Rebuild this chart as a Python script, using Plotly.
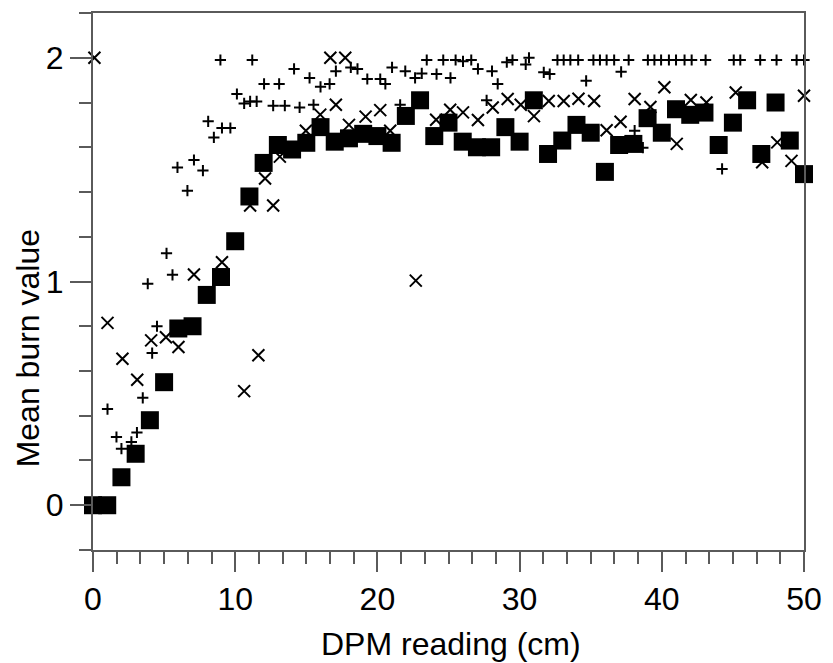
import plotly.graph_objects as go

# Squares: mean burn value, one per integer DPM reading
sq_x = list(range(0, 51))
sq_y = [0, 0, 0.125, 0.23, 0.38, 0.55, 0.79, 0.80, 0.94, 1.02,
        1.18, 1.38, 1.53, 1.61, 1.59, 1.62, 1.69, 1.625, 1.64, 1.66,
        1.65, 1.62, 1.74, 1.81, 1.65, 1.71, 1.625, 1.60, 1.60, 1.69,
        1.625, 1.81, 1.57, 1.63, 1.70, 1.665, 1.49, 1.61, 1.615, 1.73,
        1.665, 1.77, 1.745, 1.755, 1.61, 1.71, 1.81, 1.57, 1.80, 1.63,
        1.48]

# "+" series
plus_x = [1.02, 1.65, 2.0, 2.7, 3.09, 3.5, 4.16, 4.5, 3.85, 5.59,
          5.17, 6.64, 5.94, 7.1, 7.73, 8.1, 8.5, 9.07, 9.66, 8.96,
          10.12, 10.63, 11.05, 11.51, 11.2, 12.03, 13.09, 12.67, 13.49, 14.53,
          15.51, 14.14, 15.23, 16.0, 16.64, 17.08, 18.13, 18.6, 19.29, 20.2,
          20.56, 21.03, 21.6, 21.96, 22.65, 23.12, 24.16, 25.14, 23.47, 24.63,
          25.5, 26.02, 26.6, 27.07, 27.68, 28.06, 28.46, 29.1, 29.5, 30.43,
          30.66, 31.7, 32.12, 32.66, 33.1, 33.57, 34.12, 34.68, 35.19, 35.65,
          36.12, 36.65, 37.14, 37.67, 38.09, 38.67, 39.02, 39.48, 39.95, 40.5,
          41.0, 41.6, 42.1, 43.08, 44.24, 45.06, 45.52, 46.92, 48.07, 49.48,
          50.0]
plus_y = [0.43, 0.305, 0.253, 0.283, 0.325, 0.48, 0.68, 0.80, 0.99, 1.03,
          1.126, 1.406, 1.51, 1.543, 1.496, 1.716, 1.644, 1.686, 1.686, 1.99,
          1.838, 1.796, 1.805, 1.805, 1.99, 1.883, 1.883, 1.786, 1.786, 1.778,
          1.79, 1.95, 1.91, 1.87, 1.883, 1.94, 1.957, 1.95, 1.905, 1.905,
          1.883, 1.957, 1.79, 1.94, 1.91, 1.93, 1.927, 1.91, 1.99, 1.99,
          1.99, 1.984, 1.99, 1.95, 1.81, 1.94, 1.883, 1.98, 1.99, 1.97,
          2.0, 1.935, 1.927, 1.99, 1.99, 1.99, 1.99, 1.897, 1.99, 1.99,
          1.99, 1.99, 1.937, 1.99, 1.674, 1.598, 1.99, 1.99, 1.99, 1.99,
          1.99, 1.99, 1.99, 1.99, 1.503, 1.99, 1.99, 1.99, 1.99, 1.99,
          1.99]

# "x" series
cross_x = [0.1, 1.02, 2.07, 3.11, 4.09, 5.13, 6.01, 7.1, 9.07, 10.63,
           11.63, 11.05, 12.1, 12.67, 13.14, 14.97, 15.98, 16.69, 17.74, 17.08,
           18.0, 19.17, 20.2, 20.9, 22.7, 24.13, 25.12, 26.02, 27.07, 28.11,
           29.16, 30.08, 31.01, 32.05, 33.1, 34.14, 35.24, 36.12, 37.1, 38.09,
           39.2, 40.18, 41.05, 42.04, 43.14, 45.2, 47.06, 48.12, 49.12, 50.0]
cross_y = [2.0, 0.815, 0.655, 0.561, 0.737, 0.751, 0.707, 1.031, 1.086, 0.51,
           0.67, 1.34, 1.46, 1.34, 1.558, 1.674, 1.746, 2.0, 2.0, 1.79,
           1.70, 1.737, 1.766, 1.674, 1.004, 1.723, 1.768, 1.756, 1.722, 1.778,
           1.816, 1.79, 1.739, 1.807, 1.807, 1.817, 1.807, 1.676, 1.714, 1.816,
           1.78, 1.868, 1.615, 1.811, 1.80, 1.845, 1.533, 1.622, 1.539, 1.83]

x_ticks = [0, 10, 20, 30, 40, 50]
y_ticks = [0, 1, 2]

FONT = "Liberation Sans, Arial, sans-serif"
AX = "#5a5a5a"

fig = go.Figure()
fig.add_trace(go.Scatter(x=plus_x, y=plus_y, mode="markers", cliponaxis=False,
                         marker=dict(symbol="cross-thin", size=8, color="black",
                                     line=dict(width=2, color="black")),
                         showlegend=False))
fig.add_trace(go.Scatter(x=cross_x, y=cross_y, mode="markers", cliponaxis=False,
                         marker=dict(symbol="x-thin", size=12, color="black",
                                     line=dict(width=2, color="black")),
                         showlegend=False))
fig.add_trace(go.Scatter(x=sq_x, y=sq_y, mode="markers", cliponaxis=False,
                         marker=dict(symbol="square", size=18, color="black",
                                     line=dict(width=0)),
                         showlegend=False))

fig.update_layout(
    width=833, height=663,
    margin=dict(l=93, r=21, t=11, b=113),
    paper_bgcolor="white", plot_bgcolor="white",
    font=dict(family=FONT, size=32, color="black"),
    xaxis=dict(range=[0, 50], tickvals=x_ticks, ticktext=[str(v) for v in x_ticks],
               ticks="outside", ticklen=20, tickwidth=2, tickcolor=AX,
               showline=True, linecolor=AX, linewidth=2, mirror=True,
               showgrid=False, zeroline=False,
               minor=dict(dtick=10/6, tick0=0, ticks="outside", ticklen=12,
                          tickwidth=2, tickcolor=AX, showgrid=False),
               tickfont=dict(family=FONT, size=32, color="black")),
    yaxis=dict(range=[-0.2001, 2.2001], tickvals=y_ticks, ticktext=[str(v) for v in y_ticks],
               ticks="outside", ticklen=21, tickwidth=2, tickcolor=AX,
               showline=True, linecolor=AX, linewidth=2, mirror=True,
               showgrid=False, zeroline=False,
               minor=dict(dtick=0.2, tick0=0, ticks="outside", ticklen=12,
                          tickwidth=2, tickcolor=AX, showgrid=False),
               tickfont=dict(family=FONT, size=32, color="black")),
    annotations=[
        dict(text="DPM reading (cm)", xref="paper", yref="paper",
             x=0.5037, y=-0.1744, xanchor="center", yanchor="middle",
             showarrow=False, font=dict(family=FONT, size=32, color="black")),
        dict(text="Mean burn value", xref="paper", yref="paper",
             x=-0.0918, y=0.375, xanchor="center", yanchor="middle", textangle=-90,
             showarrow=False, font=dict(family=FONT, size=32, color="black")),
    ],
)

fig.write_html("out.html")
